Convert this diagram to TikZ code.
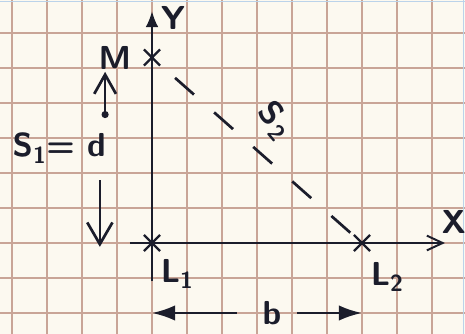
\documentclass[tikz,border=0pt]{standalone}
\usepackage{tikz}
\usetikzlibrary{positioning, arrows.meta, shapes.misc}

\definecolor{paper}{HTML}{FCF9F0}
\definecolor{gridline}{HTML}{C9A597}
\definecolor{margin}{HTML}{BBD3EA}
\definecolor{ink}{HTML}{1B1D2B}

\begin{document}
\begin{tikzpicture}[
        axis/.style={draw=ink, line width=1.3pt},
        point/.style={cross out, draw=ink, line width=1.8pt, minimum size=0.4cm, inner sep=0pt},
        handtext/.style={text=ink, font=\sffamily\bfseries\fontsize{27}{30}\selectfont, inner sep=1pt},
        arrow/.style={-{Latex[length=0.66cm, width=0.44cm]}, line width=2pt, draw=ink},
        openarrow/.style={-{Straight Barb[length=0.62cm, width=0.72cm, line width=2.2pt]}, line width=2pt, draw=ink},
        handdash/.style={draw=ink, line width=2.2pt, dash pattern={on 0.72cm off 0.77cm}, dash phase=0.92cm}
    ]

    % Paper with grid
    \fill[paper] (-4.343,-2.6) rectangle (8.943,6.943);
    \useasboundingbox (-4.343,-2.6) rectangle (8.943,6.943);
    \draw[gridline, line width=1pt] (-4.343,-2.6) grid (8.943,6.943);
    \draw[margin, line width=1pt] (-4.343,6.9) -- (8.943,6.9);
    \draw[margin, line width=1pt] (8.89,-2.6) -- (8.89,6.943);

    % Marked points
    \node[point] (L1) at (0,0) {};
    \node[point] (L2) at (6,0) {};
    \node[point] (M) at (0,5.3) {};

    % Axes
    \coordinate (ytop) at (0,6.62);
    \coordinate (ybot) at (0,-1.1);
    \coordinate (xleft) at (-0.63,0);
    \coordinate (xright) at (8.37,0);
    \draw[axis, -{Latex[length=0.45cm, width=0.36cm]}] (ybot) -- (ytop);
    \draw[axis, -{Straight Barb[length=0.45cm, width=0.42cm, line width=1.6pt]}] (xleft) -- (xright);

    % Labels
    \node[handtext] (ylab) at (0.6,6.43) {Y};
    \node[handtext] (xlab) at (8.62,0.6) {X};
    \node[handtext] (mlab) at (-1.06,5.29) {M};
    \node[handtext] (l1lab) at (0.72,-0.89) {L\textsubscript{1}};
    \node[handtext] (l2lab) at (6.72,-0.97) {L\textsubscript{2}};
    \node[handtext] (s1lab) at (-2.65,2.71) {S\textsubscript{1}=\hspace{0.35cm}d};
    \node[handtext, rotate=-50] (s2lab) at (3.5,3.5) {S\hspace{2pt}\textsubscript{2}};
    \node[handtext] (blab) at (3.43,-2.0) {b};

    % Distance M to L2
    \draw[handdash] (M) -- (L2);

    % Distance S1 = d
    \coordinate (upstart) at (-1.34,3.57);
    \coordinate (upend) at (-1.34,4.89);
    \coordinate (downstart) at (-1.49,1.8);
    \coordinate (downend) at (-1.49,-0.11);
    \draw[openarrow, {Circle[length=0.2cm]}-{Straight Barb[length=0.55cm, width=0.62cm, line width=2.2pt]}] (upstart) -- (upend);
    \draw[openarrow] (downstart) -- (downend);

    % Distance b
    \coordinate (bleft) at (2.43,-2.0);
    \coordinate (bright) at (4.14,-2.0);
    \draw[arrow] (bleft) -- (L1 |- blab);
    \draw[arrow] (bright) -- (L2 |- blab);

\end{tikzpicture}
\end{document}
